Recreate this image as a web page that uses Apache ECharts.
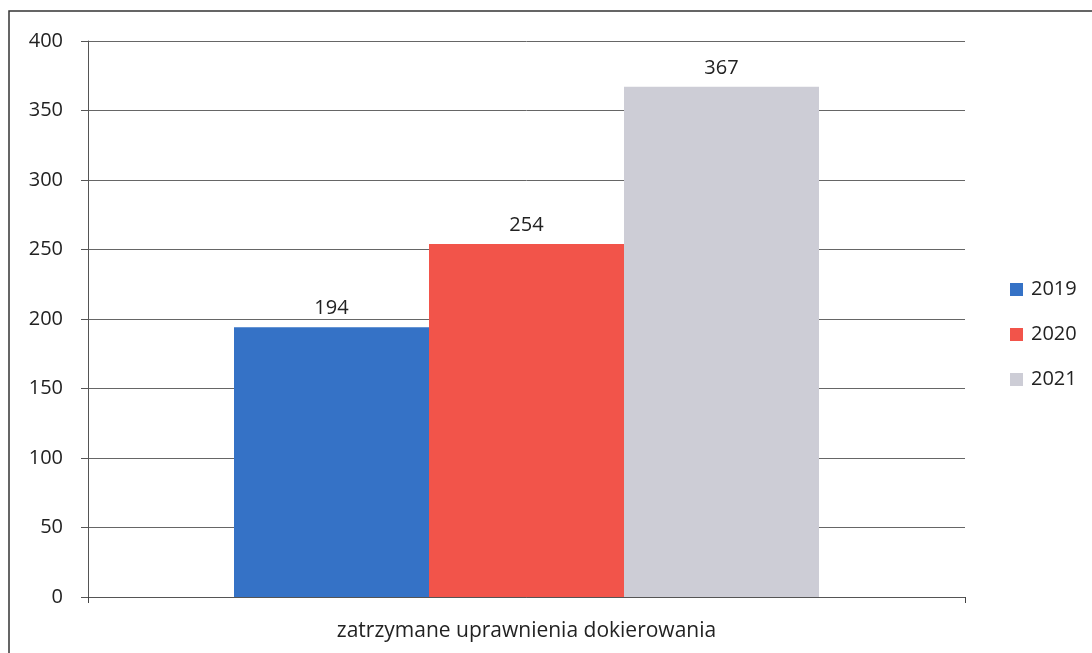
<!DOCTYPE html>
<html><head><meta charset="utf-8">
<script src="https://cdn.jsdelivr.net/npm/echarts@6/dist/echarts.min.js"></script>
<style>html,body{margin:0;padding:0;background:#fff}#c{width:1092px;height:653px}</style>
</head><body><div id="c"></div>
<script>
const categories = ['zatrzymane uprawnienia dokierowania'];
const seriesNames = ['2019', '2020', '2021'];
const values2019 = [194];
const values2020 = [254];
const values2021 = [367];
const yTicks = [0, 50, 100, 150, 200, 250, 300, 350, 400];

const colors = ['#3572c6', '#f2544a', '#cdcdd6'];
const font = '"Open Sans", sans-serif';
const chart = echarts.init(document.getElementById('c'));
const vals = [values2019, values2020, values2021];
chart.setOption({
  animation: false,
  graphic: [{type:'polyline', shape:{points:[[9,660],[9,11],[1100,11]]}, style:{stroke:'#333', lineWidth:1.5, fill:null}}],
  grid: {left: 88, right: 127, top: 41, bottom: 56},
  legend: {
    orient: 'vertical', left: 1005, top: 274, itemGap: 24,
    itemWidth: 13, itemHeight: 13, icon: 'rect',
    textStyle: {fontFamily: font, fontSize: 20, color: '#222', lineHeight: 21, padding: [0,0,0,3]},
    data: seriesNames
  },
  xAxis: {
    type: 'category', data: categories,
    axisLine: {lineStyle: {color: '#555', width: 1}},
    axisTick: {show: true, length: 6, lineStyle: {color: '#444'}},
    axisLabel: {fontFamily: font, fontSize: 21, color: '#222', margin: 24}
  },
  yAxis: {
    type: 'value', min: 0, max: 400, interval: 50,
    axisLine: {show: true, lineStyle: {color: '#555'}},
    axisTick: {show: true, length: 7, inside: false, lineStyle: {color: '#555'}},
    axisLabel: {fontFamily: font, fontSize: 20, color: '#222', margin: 25,
      formatter: v => yTicks.includes(v) ? String(v) : ''},
    splitLine: {lineStyle: {color: '#666', width: 1}}
  },
  series: seriesNames.map((n, i) => ({
    name: n, type: 'bar', data: vals[i],
    barWidth: 195, barGap: '0%',
    itemStyle: {color: colors[i]},
    label: {show: true, position: 'top', distance: 9, fontFamily: font, fontSize: 20, color: '#222'}
  }))
});
</script></body></html>
